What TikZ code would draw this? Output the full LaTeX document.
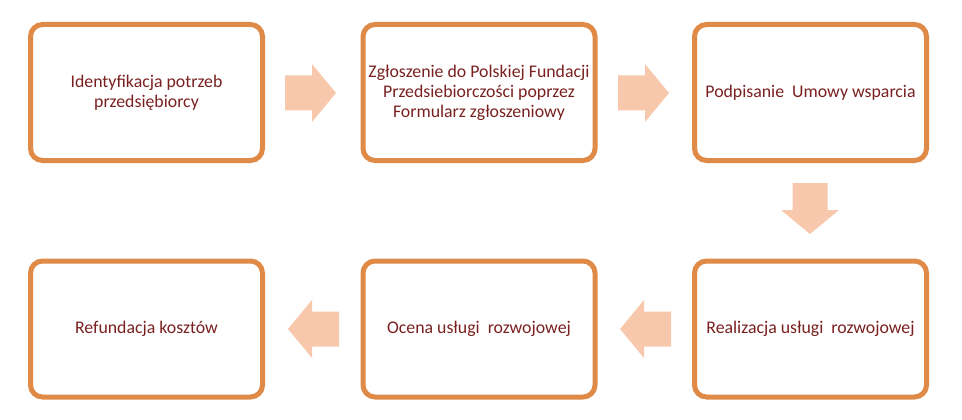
\documentclass[tikz,border=0pt]{standalone}
\usepackage{fontspec}
\setmainfont{Carlito}
\definecolor{boxorange}{RGB}{224,138,72}
\definecolor{arrowpeach}{RGB}{248,200,172}
\definecolor{txtred}{RGB}{122,32,32}
\begin{document}
\begin{tikzpicture}[x=1pt,y=1pt,
  stepbox/.style={draw=boxorange, line width=5pt, rounded corners=12pt, fill=white,
    minimum width=232pt, minimum height=136pt, align=center, text=txtred,
    font=\fontsize{17.8}{20}\selectfont, inner sep=0pt},
  pics/blockarrow/.style={code={
    \fill[arrowpeach] (0,-17.5) -- (27,-17.5) -- (27,-29) -- (51,0) -- (27,29) -- (27,17.5) -- (0,17.5) -- cycle;}}]
\useasboundingbox (0,0) rectangle (962,-420);
\node[stepbox] (b1) at (146.5,-92.5) {Identyfikacja potrzeb\\przedsiębiorcy};
\node[stepbox] (b2) at (479,-92.5) {Zgłoszenie do Polskiej Fundacji\\Przedsiebiorczości poprzez\\Formularz zgłoszeniowy};
\node[stepbox] (b3) at (810.5,-92.5) {Podpisanie\ \ Umowy wsparcia};
\node[stepbox] (b4) at (810.5,-329) {Realizacja usługi\ \ rozwojowej};
\node[stepbox] (b5) at (479,-329) {Ocena usługi\ \ rozwojowej};
\node[stepbox] (b6) at (146.5,-329) {Refundacja kosztów};
\pic at (285,-93) {blockarrow};
\pic at (618,-93) {blockarrow};
\pic[rotate=-90] at (810,-183) {blockarrow};
\pic[rotate=180] at (671,-329) {blockarrow};
\pic[rotate=180] at (339,-329) {blockarrow};
\end{tikzpicture}
\end{document}
